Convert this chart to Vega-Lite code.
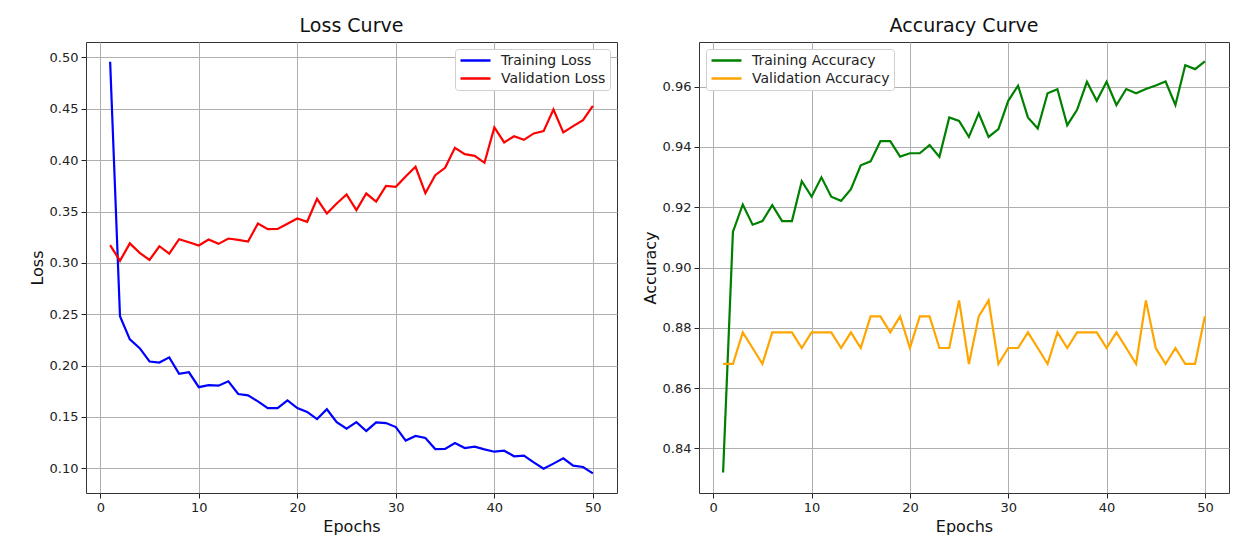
{
  "$schema": "https://vega.github.io/schema/vega-lite/v6.json",
  "padding": {"left": 28, "top": 16, "right": 0, "bottom": 0},
  "background": "white",
  "spacing": 23,
  "config": {
    "font": "DejaVu Sans",
    "view": {"stroke": "#333", "strokeWidth": 1},
    "axis": {
      "grid": true, "gridColor": "#b0b0b0", "gridWidth": 1,
      "domain": false, "tickColor": "#222", "tickSize": 5, "tickWidth": 1,
      "labelFont": "DejaVu Sans", "labelFontSize": 13, "labelColor": "#222", "labelPadding": 3,
      "titleFont": "DejaVu Sans", "titleFontSize": 16, "titleFontWeight": "normal", "titleColor": "#111"
    },
    "title": {"font": "DejaVu Sans", "fontSize": 19, "fontWeight": "normal", "color": "#111", "offset": 6},
    "legend": {
      "labelFont": "DejaVu Sans", "labelFontSize": 14, "labelColor": "#222",
      "symbolType": "stroke", "symbolSize": 900, "symbolStrokeWidth": 2.5,
      "strokeColor": "#d0d0d0", "fillColor": "white", "padding": 4, "cornerRadius": 3,
      "clipHeight": 15, "rowPadding": 3, "labelOffset": 9, "title": null, "offset": 7
    }
  },
  "datasets": {
    "loss": [
      {"epoch": 1, "Training Loss": 0.4957, "Validation Loss": 0.3172},
      {"epoch": 2, "Training Loss": 0.248, "Validation Loss": 0.302},
      {"epoch": 3, "Training Loss": 0.2256, "Validation Loss": 0.319},
      {"epoch": 4, "Training Loss": 0.217, "Validation Loss": 0.3097},
      {"epoch": 5, "Training Loss": 0.204, "Validation Loss": 0.3029},
      {"epoch": 6, "Training Loss": 0.203, "Validation Loss": 0.3162},
      {"epoch": 7, "Training Loss": 0.208, "Validation Loss": 0.309},
      {"epoch": 8, "Training Loss": 0.192, "Validation Loss": 0.323},
      {"epoch": 9, "Training Loss": 0.1935, "Validation Loss": 0.3201},
      {"epoch": 10, "Training Loss": 0.179, "Validation Loss": 0.3169},
      {"epoch": 11, "Training Loss": 0.181, "Validation Loss": 0.3227},
      {"epoch": 12, "Training Loss": 0.1805, "Validation Loss": 0.3185},
      {"epoch": 13, "Training Loss": 0.1847, "Validation Loss": 0.3237},
      {"epoch": 14, "Training Loss": 0.1724, "Validation Loss": 0.3224},
      {"epoch": 15, "Training Loss": 0.171, "Validation Loss": 0.3208},
      {"epoch": 16, "Training Loss": 0.1652, "Validation Loss": 0.3383},
      {"epoch": 17, "Training Loss": 0.1587, "Validation Loss": 0.3328},
      {"epoch": 18, "Training Loss": 0.1587, "Validation Loss": 0.3331},
      {"epoch": 19, "Training Loss": 0.1662, "Validation Loss": 0.338},
      {"epoch": 20, "Training Loss": 0.1587, "Validation Loss": 0.3432},
      {"epoch": 21, "Training Loss": 0.1549, "Validation Loss": 0.34},
      {"epoch": 22, "Training Loss": 0.148, "Validation Loss": 0.3623},
      {"epoch": 23, "Training Loss": 0.1575, "Validation Loss": 0.348},
      {"epoch": 24, "Training Loss": 0.145, "Validation Loss": 0.3578},
      {"epoch": 25, "Training Loss": 0.1387, "Validation Loss": 0.3666},
      {"epoch": 26, "Training Loss": 0.145, "Validation Loss": 0.3513},
      {"epoch": 27, "Training Loss": 0.1364, "Validation Loss": 0.3675},
      {"epoch": 28, "Training Loss": 0.1448, "Validation Loss": 0.3597},
      {"epoch": 29, "Training Loss": 0.1441, "Validation Loss": 0.375},
      {"epoch": 30, "Training Loss": 0.1402, "Validation Loss": 0.374},
      {"epoch": 31, "Training Loss": 0.127, "Validation Loss": 0.3841},
      {"epoch": 32, "Training Loss": 0.1315, "Validation Loss": 0.3935},
      {"epoch": 33, "Training Loss": 0.1295, "Validation Loss": 0.3678},
      {"epoch": 34, "Training Loss": 0.1188, "Validation Loss": 0.3854},
      {"epoch": 35, "Training Loss": 0.119, "Validation Loss": 0.3925},
      {"epoch": 36, "Training Loss": 0.1247, "Validation Loss": 0.412},
      {"epoch": 37, "Training Loss": 0.1198, "Validation Loss": 0.4058},
      {"epoch": 38, "Training Loss": 0.1211, "Validation Loss": 0.4042},
      {"epoch": 39, "Training Loss": 0.1185, "Validation Loss": 0.3974},
      {"epoch": 40, "Training Loss": 0.1162, "Validation Loss": 0.4318},
      {"epoch": 41, "Training Loss": 0.1172, "Validation Loss": 0.4172},
      {"epoch": 42, "Training Loss": 0.1117, "Validation Loss": 0.4233},
      {"epoch": 43, "Training Loss": 0.1123, "Validation Loss": 0.4198},
      {"epoch": 44, "Training Loss": 0.1058, "Validation Loss": 0.426},
      {"epoch": 45, "Training Loss": 0.0997, "Validation Loss": 0.4282},
      {"epoch": 46, "Training Loss": 0.1046, "Validation Loss": 0.4493},
      {"epoch": 47, "Training Loss": 0.1097, "Validation Loss": 0.427},
      {"epoch": 48, "Training Loss": 0.1026, "Validation Loss": 0.4331},
      {"epoch": 49, "Training Loss": 0.1013, "Validation Loss": 0.4389},
      {"epoch": 50, "Training Loss": 0.0951, "Validation Loss": 0.4529}
    ],
    "acc": [
      {"epoch": 1, "Training Accuracy": 0.832, "Validation Accuracy": 0.868},
      {"epoch": 2, "Training Accuracy": 0.9118, "Validation Accuracy": 0.868},
      {"epoch": 3, "Training Accuracy": 0.9209, "Validation Accuracy": 0.8785},
      {"epoch": 4, "Training Accuracy": 0.9142, "Validation Accuracy": 0.8733},
      {"epoch": 5, "Training Accuracy": 0.9154, "Validation Accuracy": 0.868},
      {"epoch": 6, "Training Accuracy": 0.9207, "Validation Accuracy": 0.8785},
      {"epoch": 7, "Training Accuracy": 0.9154, "Validation Accuracy": 0.8785},
      {"epoch": 8, "Training Accuracy": 0.9154, "Validation Accuracy": 0.8785},
      {"epoch": 9, "Training Accuracy": 0.9286, "Validation Accuracy": 0.8733},
      {"epoch": 10, "Training Accuracy": 0.9235, "Validation Accuracy": 0.8785},
      {"epoch": 11, "Training Accuracy": 0.9299, "Validation Accuracy": 0.8785},
      {"epoch": 12, "Training Accuracy": 0.9235, "Validation Accuracy": 0.8785},
      {"epoch": 13, "Training Accuracy": 0.9221, "Validation Accuracy": 0.8733},
      {"epoch": 14, "Training Accuracy": 0.926, "Validation Accuracy": 0.8785},
      {"epoch": 15, "Training Accuracy": 0.9339, "Validation Accuracy": 0.8733},
      {"epoch": 16, "Training Accuracy": 0.9352, "Validation Accuracy": 0.8838},
      {"epoch": 17, "Training Accuracy": 0.9419, "Validation Accuracy": 0.8838},
      {"epoch": 18, "Training Accuracy": 0.9419, "Validation Accuracy": 0.8785},
      {"epoch": 19, "Training Accuracy": 0.9368, "Validation Accuracy": 0.8838},
      {"epoch": 20, "Training Accuracy": 0.9379, "Validation Accuracy": 0.8733},
      {"epoch": 21, "Training Accuracy": 0.9379, "Validation Accuracy": 0.8838},
      {"epoch": 22, "Training Accuracy": 0.9406, "Validation Accuracy": 0.8838},
      {"epoch": 23, "Training Accuracy": 0.9367, "Validation Accuracy": 0.8733},
      {"epoch": 24, "Training Accuracy": 0.9498, "Validation Accuracy": 0.8733},
      {"epoch": 25, "Training Accuracy": 0.9486, "Validation Accuracy": 0.8891},
      {"epoch": 26, "Training Accuracy": 0.9433, "Validation Accuracy": 0.868},
      {"epoch": 27, "Training Accuracy": 0.9511, "Validation Accuracy": 0.8838},
      {"epoch": 28, "Training Accuracy": 0.9433, "Validation Accuracy": 0.8891},
      {"epoch": 29, "Training Accuracy": 0.9459, "Validation Accuracy": 0.868},
      {"epoch": 30, "Training Accuracy": 0.9553, "Validation Accuracy": 0.8733},
      {"epoch": 31, "Training Accuracy": 0.9603, "Validation Accuracy": 0.8733},
      {"epoch": 32, "Training Accuracy": 0.9498, "Validation Accuracy": 0.8785},
      {"epoch": 33, "Training Accuracy": 0.9461, "Validation Accuracy": 0.8733},
      {"epoch": 34, "Training Accuracy": 0.9578, "Validation Accuracy": 0.868},
      {"epoch": 35, "Training Accuracy": 0.9591, "Validation Accuracy": 0.8785},
      {"epoch": 36, "Training Accuracy": 0.9472, "Validation Accuracy": 0.8733},
      {"epoch": 37, "Training Accuracy": 0.9523, "Validation Accuracy": 0.8785},
      {"epoch": 38, "Training Accuracy": 0.9616, "Validation Accuracy": 0.8785},
      {"epoch": 39, "Training Accuracy": 0.9553, "Validation Accuracy": 0.8785},
      {"epoch": 40, "Training Accuracy": 0.9616, "Validation Accuracy": 0.8733},
      {"epoch": 41, "Training Accuracy": 0.9539, "Validation Accuracy": 0.8785},
      {"epoch": 42, "Training Accuracy": 0.9592, "Validation Accuracy": 0.8733},
      {"epoch": 43, "Training Accuracy": 0.9578, "Validation Accuracy": 0.868},
      {"epoch": 44, "Training Accuracy": 0.9592, "Validation Accuracy": 0.8891},
      {"epoch": 45, "Training Accuracy": 0.9604, "Validation Accuracy": 0.8733},
      {"epoch": 46, "Training Accuracy": 0.9617, "Validation Accuracy": 0.868},
      {"epoch": 47, "Training Accuracy": 0.9539, "Validation Accuracy": 0.8733},
      {"epoch": 48, "Training Accuracy": 0.9671, "Validation Accuracy": 0.868},
      {"epoch": 49, "Training Accuracy": 0.9658, "Validation Accuracy": 0.868},
      {"epoch": 50, "Training Accuracy": 0.9684, "Validation Accuracy": 0.8838}
    ]
  },
  "hconcat": [
    {
      "title": "Loss Curve",
      "width": 531,
      "height": 451,
      "data": {"name": "loss"},
      "transform": [{"fold": ["Training Loss", "Validation Loss"], "as": ["series", "value"]}],
      "mark": {"type": "line", "strokeWidth": 2.2, "clip": true},
      "encoding": {
        "x": {"field": "epoch", "type": "quantitative", "title": "Epochs",
              "scale": {"domain": [-1.45, 52.45], "nice": false, "zero": false},
              "axis": {"values": [0, 10, 20, 30, 40, 50], "titlePadding": 4}},
        "y": {"field": "value", "type": "quantitative", "title": "Loss",
              "scale": {"domain": [0.076, 0.515], "nice": false, "zero": false},
              "axis": {"values": [0.1, 0.15, 0.2, 0.25, 0.3, 0.35, 0.4, 0.45, 0.5], "format": ".2f", "titlePadding": 4}},
        "color": {"field": "series", "type": "nominal",
                  "scale": {"domain": ["Training Loss", "Validation Loss"], "range": ["#0000ff", "#ff0000"]},
                  "legend": {"orient": "top-right"}}
      }
    },
    {
      "title": "Accuracy Curve",
      "width": 530,
      "height": 451,
      "data": {"name": "acc"},
      "transform": [{"fold": ["Training Accuracy", "Validation Accuracy"], "as": ["series", "value"]}],
      "mark": {"type": "line", "strokeWidth": 2.2, "clip": true},
      "encoding": {
        "x": {"field": "epoch", "type": "quantitative", "title": "Epochs",
              "scale": {"domain": [-1.45, 52.45], "nice": false, "zero": false},
              "axis": {"values": [0, 10, 20, 30, 40, 50], "titlePadding": 4}},
        "y": {"field": "value", "type": "quantitative", "title": "Accuracy",
              "scale": {"domain": [0.8252, 0.9748], "nice": false, "zero": false},
              "axis": {"values": [0.84, 0.86, 0.88, 0.9, 0.92, 0.94, 0.96], "format": ".2f", "titlePadding": 4}},
        "color": {"field": "series", "type": "nominal",
                  "scale": {"domain": ["Training Accuracy", "Validation Accuracy"], "range": ["#008000", "#ffa500"]},
                  "legend": {"orient": "top-left"}}
      }
    }
  ],
  "resolve": {"scale": {"color": "independent", "y": "independent"}, "legend": {"color": "independent"}}
}
